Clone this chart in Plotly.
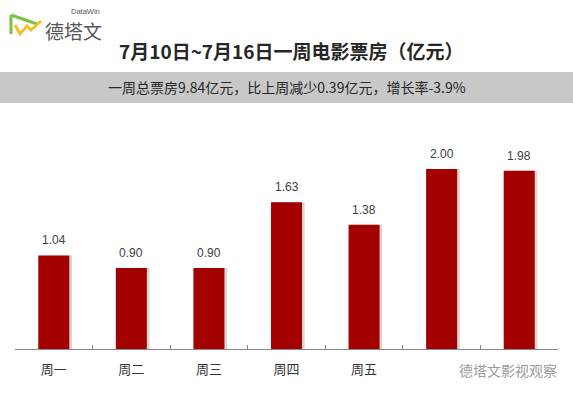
import plotly.graph_objects as go

categories = ["周一", "周二", "周三", "周四", "周五", "周六", "周日"]
values = [1.04, 0.90, 0.90, 1.63, 1.38, 2.00, 1.98]
value_labels = ["1.04", "0.90", "0.90", "1.63", "1.38", "2.00", "1.98"]
title_text = "7月10日~7月16日一周电影票房（亿元）"
subtitle_text = "一周总票房9.84亿元，比上周减少0.39亿元，增长率-3.9%"

W, H = 573, 396
ML, MR, MT, MB = 15, 15, 130, 47
PW, PH = W - ML - MR, H - MT - MB

def px(x, y):
    return (x - ML) / PW, (H - MB - y) / PH

CJK = "Noto Sans CJK SC, Microsoft YaHei, sans-serif"
LAT = "Liberation Sans, Arial, sans-serif"

fig = go.Figure()
# shadow
fig.add_trace(go.Bar(
    x=categories, y=values, width=0.4, offset=-0.165,
    marker=dict(color="rgba(0,0,0,0.16)", line=dict(width=0)),
    hoverinfo="skip", showlegend=False,
))
fig.add_trace(go.Bar(
    x=categories, y=values, width=0.4, offset=-0.2,
    marker=dict(color="#A30000", line=dict(width=0)),
    showlegend=False,
))

shapes = []
x0, y0 = px(0, 72)
x1, y1 = px(W, 103)
shapes.append(dict(type="rect", xref="paper", yref="paper", x0=x0, y0=y0, x1=x1, y1=y1,
                   fillcolor="#c8c8c8", line=dict(width=0), layer="below"))

def path(points):
    s = ""
    for i, (a, b) in enumerate(points):
        xx, yy = px(a, b)
        s += ("M" if i == 0 else "L") + f"{xx:.4f},{yy:.4f} "
    return s

shapes.append(dict(type="path", xref="paper", yref="paper",
                   path=path([(11, 15), (11, 34)]) + path([(11, 15), (37, 24)]),
                   line=dict(color="#7cc242", width=3)))
shapes.append(dict(type="path", xref="paper", yref="paper",
                   path=path([(15, 25), (20, 34), (27, 26), (31, 30), (41, 21)]),
                   line=dict(color="#f2c12e", width=3)))

annotations = []
def ann(text, x, y, size, color, family=CJK, bold=False, **kw):
    ax, ay = px(x, y)
    t = f"<b>{text}</b>" if bold else text
    d = dict(text=t, xref="paper", yref="paper", x=ax, y=ay,
             showarrow=False, font=dict(family=family, size=size, color=color),
             xanchor="center", yanchor="middle",
             bgcolor=kw.get("bgcolor", "rgba(0,0,0,0)"))
    if "width" in kw:
        d["width"] = kw["width"]
        d["height"] = kw["height"]
        d["align"] = "right"
    annotations.append(d)

ann(title_text, 291, 50, 19, "#262626", bold=True)
ann(subtitle_text, 287, 87, 14, "#262626")
ann("德塔文", 73, 30, 19, "#555555")
ann("DataWin", 85, 12, 7.5, "#555555", family=LAT)
ann("德塔文影视观察", 493, 370, 14, "#9a9a9a", bgcolor="#ffffff", width=128, height=24)

# value labels above bars (from data through axis scale)
for c, v, lab in zip(categories, values, value_labels):
    annotations.append(dict(text=lab, x=c, y=v, xref="x", yref="y", showarrow=False,
                            yanchor="bottom", yshift=6,
                            font=dict(family=LAT, size=12, color="#404040")))

fig.update_layout(
    width=W, height=H,
    margin=dict(l=ML, r=MR, t=MT, b=MB),
    paper_bgcolor="white", plot_bgcolor="white",
    barmode="overlay",
    shapes=shapes, annotations=annotations,
    xaxis=dict(type="category", tickson="boundaries", ticks="inside", ticklen=4,
               tickcolor="#888888", showline=True, linecolor="#888888", linewidth=1,
               showgrid=False, tickfont=dict(family=CJK, size=13, color="#333333"),
               ticklabelstandoff=8, fixedrange=True),
    yaxis=dict(range=[0, PH / 90.0], visible=False, showgrid=False, fixedrange=True),
)

fig.write_html("out.html", config={"displayModeBar": False},
               post_script="document.body.style.margin='0';document.body.style.overflow='hidden';")
